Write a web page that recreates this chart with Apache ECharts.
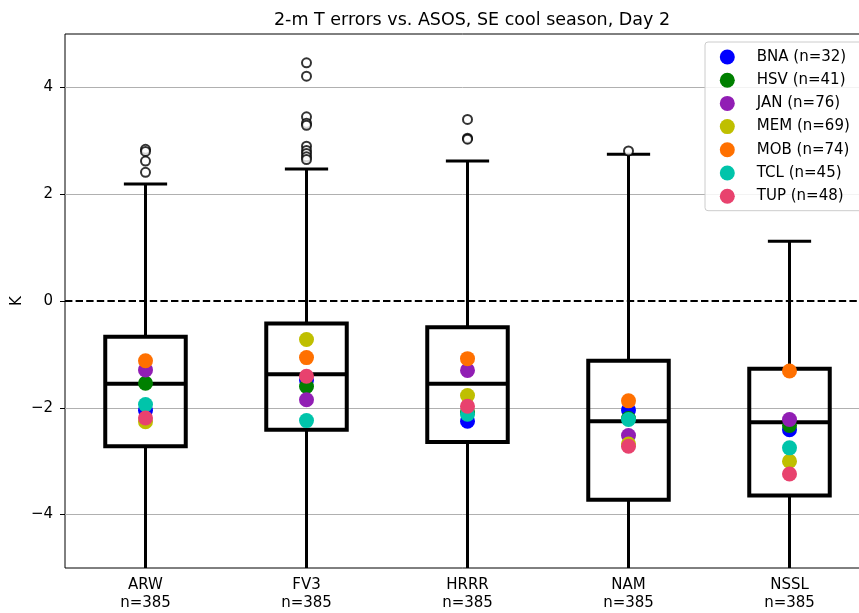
<!DOCTYPE html>
<html>
<head>
<meta charset="utf-8">
<title>2-m T errors vs. ASOS</title>
<script src="https://cdn.jsdelivr.net/npm/echarts@6/dist/echarts.min.js"></script>
<style>
  html, body { margin: 0; padding: 0; background: #fff; }
  #chart { width: 859px; height: 613px; }
</style>
</head>
<body>
<div id="chart"></div>
<script>
// Models on the x axis and their sample counts
const models = ['ARW', 'FV3', 'HRRR', 'NAM', 'NSSL'];
const modelCounts = [385, 385, 385, 385, 385];

// Box statistics per model (K)
const whiskerLow = [-5.8, -5.8, -5.8, -5.8, -5.8];
const q1 = [-2.72, -2.41, -2.64, -3.72, -3.64];
const medians = [-1.55, -1.37, -1.55, -2.25, -2.27];
const q3 = [-0.67, -0.42, -0.49, -1.12, -1.27];
const whiskerHigh = [2.19, 2.47, 2.62, 2.75, 1.12];

// Outliers beyond the upper whisker, per model
const outliers = [
  [2.84, 2.80, 2.62, 2.41],
  [4.46, 4.21, 3.45, 3.33, 3.29, 2.90, 2.82, 2.76, 2.70, 2.65],
  [3.40, 3.05, 3.03],
  [2.81],
  []
];

// Station mean errors per model (same order as models)
const stations = ['BNA', 'HSV', 'JAN', 'MEM', 'MOB', 'TCL', 'TUP'];
const stationCounts = [32, 41, 76, 69, 74, 45, 48];
const stationColors = ['#0000ff', '#008000', '#911eb4', '#bfbf00', '#ff7000', '#00c4aa', '#e8426e'];
const BNA = [-2.05, -1.48, -2.25, -2.04, -2.41];
const HSV = [-1.54, -1.60, -2.08, -2.20, -2.33];
const JAN = [-1.29, -1.85, -1.30, -2.52, -2.22];
const MEM = [-2.26, -0.72, -1.77, -2.68, -3.00];
const MOB = [-1.12, -1.06, -1.08, -1.87, -1.31];
const TCL = [-1.94, -2.24, -2.12, -2.22, -2.75];
const TUP = [-2.19, -1.41, -1.97, -2.72, -3.24];
const stationValues = [BNA, HSV, JAN, MEM, MOB, TCL, TUP];

// Y axis ticks and grid lines
const yTicks = [-4, -2, 0, 2, 4];
const gridLines = [-4, -2, 2, 4];

const FONT = 'DejaVu Sans';
const chart = echarts.init(document.getElementById('chart'), null, { renderer: 'canvas' });

const boxData = models.map((m, i) => [i, whiskerLow[i], q1[i], medians[i], q3[i], whiskerHigh[i]]);

function renderBox(params, api) {
  const i = api.value(0);
  const band = api.size([1, 0])[0];
  const half = band * 0.25;
  const capHalf = band * 0.125;
  const x = api.coord([i, 0])[0];
  const yLow = api.coord([i, api.value(1)])[1];
  const yQ1 = api.coord([i, api.value(2)])[1];
  const yMed = api.coord([i, api.value(3)])[1];
  const yQ3 = api.coord([i, api.value(4)])[1];
  const yHigh = api.coord([i, api.value(5)])[1];
  const thick = { stroke: '#000', lineWidth: 4, fill: null, lineJoin: 'miter' };
  const thin = { stroke: '#000', lineWidth: 3, lineCap: 'square' };
  return {
    type: 'group',
    children: [
      { type: 'line', shape: { x1: x, y1: yQ1, x2: x, y2: yLow }, style: { stroke: '#000', lineWidth: 3 } },
      { type: 'line', shape: { x1: x, y1: yQ3, x2: x, y2: yHigh }, style: { stroke: '#000', lineWidth: 3 } },
      { type: 'line', shape: { x1: x - capHalf, y1: yLow, x2: x + capHalf, y2: yLow }, style: thin },
      { type: 'line', shape: { x1: x - capHalf, y1: yHigh, x2: x + capHalf, y2: yHigh }, style: thin },
      { type: 'polygon', shape: { points: [[x - half, yQ1], [x + half, yQ1], [x + half, yQ3], [x - half, yQ3]] }, style: thick },
      { type: 'line', shape: { x1: x - half, y1: yMed, x2: x + half, y2: yMed }, style: { stroke: '#000', lineWidth: 4 } }
    ]
  };
}

const outlierData = [];
outliers.forEach((arr, i) => arr.forEach(v => outlierData.push([i, v])));

const series = [
  {
    type: 'custom',
    name: 'boxes',
    renderItem: renderBox,
    data: boxData,
    encode: { x: 0, y: [1, 2, 3, 4, 5] },
    clip: true,
    z: 3,
    silent: true,
    markLine: {
      silent: true,
      symbol: 'none',
      label: { show: false },
      animation: false,
      z: 1,
      data: gridLines.map(v => ({ yAxis: v, lineStyle: { color: '#b0b0b0', width: 1, type: 'solid' } }))
        .concat([{ yAxis: 0, lineStyle: { color: '#000', width: 2, type: [7.4, 3.2] } }])
    }
  },
  {
    type: 'scatter',
    name: 'outliers',
    data: outlierData,
    symbol: 'emptyCircle',
    symbolSize: 9,
    itemStyle: { color: '#000', borderColor: '#000', borderWidth: 1.5 },
    z: 4,
    silent: true
  }
];

stations.forEach((s, k) => {
  series.push({
    type: 'scatter',
    name: s + ' (n=' + stationCounts[k] + ')',
    data: stationValues[k].map((v, i) => [i, v]),
    symbol: 'circle',
    symbolSize: 15,
    itemStyle: { color: stationColors[k], opacity: 1 },
    z: 5 + k,
    silent: true
  });
});

chart.setOption({
  animation: false,
  backgroundColor: '#fff',
  textStyle: { fontFamily: FONT },
  title: {
    text: '2-m T errors vs. ASOS, SE cool season, Day 2',
    left: 467,
    textAlign: 'center',
    top: 6,
    textStyle: { fontFamily: FONT, fontSize: 17.5, fontWeight: 'normal', color: '#000' }
  },
  legend: {
    data: stations.map((s, k) => s + ' (n=' + stationCounts[k] + ')'),
    orient: 'vertical',
    left: 705,
    right: -80,
    top: 42,
    padding: [7.5, 60, 7, 14.8],
    itemWidth: 15,
    itemHeight: 15,
    itemGap: 8.2,
    icon: 'circle',
    selectedMode: false,
    backgroundColor: 'rgba(255,255,255,0.85)',
    borderColor: '#cccccc',
    borderWidth: 1,
    borderRadius: 3,
    textStyle: { fontFamily: FONT, fontSize: 15, color: '#000', padding: [0, 0, 0, 17] }
  },
  grid: {
    left: 65,
    top: 34,
    width: 805,
    height: 534,
    outerBoundsMode: 'none',
    containLabel: false,
    show: true,
    borderColor: '#000',
    borderWidth: 1,
    backgroundColor: 'transparent'
  },
  xAxis: {
    type: 'category',
    data: models,
    boundaryGap: true,
    axisLine: { show: false },
    axisTick: { show: true, alignWithLabel: true, length: 5, lineStyle: { color: '#000', width: 1 } },
    axisLabel: {
      interval: 0,
      margin: 8,
      fontFamily: FONT,
      fontSize: 15,
      color: '#000',
      lineHeight: 18,
      formatter: (val, idx) => val + '\nn=' + modelCounts[idx]
    },
    splitLine: { show: false }
  },
  yAxis: {
    type: 'value',
    min: -5,
    max: 5,
    name: 'K',
    nameLocation: 'middle',
    nameGap: 40,
    nameMoveOverlap: false,
    nameTextStyle: { fontFamily: FONT, fontSize: 15, color: '#000' },
    axisLine: { show: false },
    axisTick: { show: true, length: 5, customValues: yTicks, lineStyle: { color: '#000', width: 1 } },
    axisLabel: {
      customValues: yTicks,
      margin: 12,
      fontFamily: FONT,
      fontSize: 15,
      color: '#000',
      formatter: v => String(v).replace('-', '\u2212')
    },
    splitLine: { show: false }
  },
  series: series
});
</script>
</body>
</html>
